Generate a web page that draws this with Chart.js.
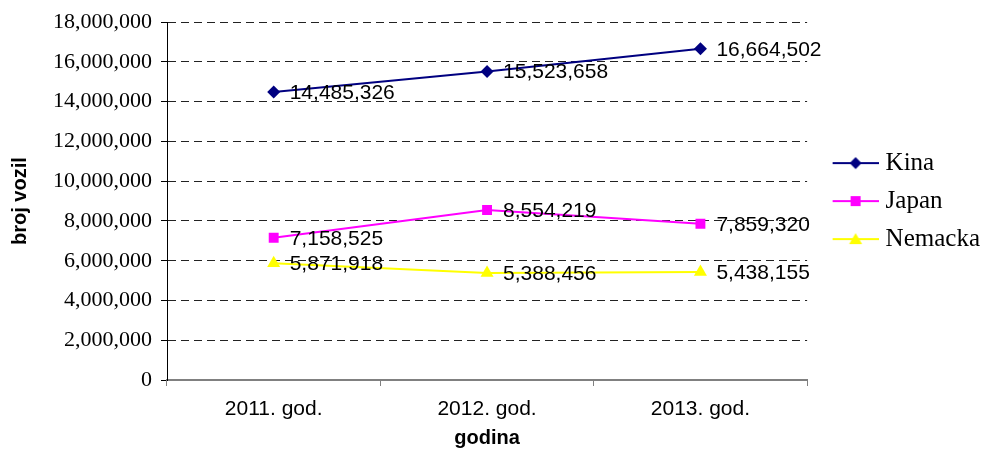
<!DOCTYPE html>
<html lang="sr">
<head>
    <meta charset="UTF-8">
    <title>broj vozil po godini</title>
    <script src="https://cdn.jsdelivr.net/npm/chart.js"></script>
    <style>
        html, body { margin: 0; padding: 0; background: #fff; overflow: hidden; }
    </style>
</head>
<body>
<canvas id="vozila_chart" width="985" height="459"></canvas>
<script>
// values
const godine = ['2011. god.', '2012. god.', '2013. god.'];
const kina = [14485326, 15523658, 16664502];
const japan = [7158525, 8554219, 7859320];
const nemacka = [5871918, 5388456, 5438155];

const serije = [
    { label: 'Kina', data: kina, color: '#000080', style: 'rectRot', radius: 6.5 },
    { label: 'Japan', data: japan, color: '#FF00FF', style: 'rect', radius: 7 },
    { label: 'Nemacka', data: nemacka, color: '#FFFF00', style: 'triangle', radius: 7.5 }
];

const fmt = v => Number(v).toLocaleString('en-US');

// little line + marker swatch for the legend
function legendSwatch(color, style) {
    const c = document.createElement('canvas');
    c.width = 64;
    c.height = 20;
    const g = c.getContext('2d');
    g.strokeStyle = color;
    g.lineWidth = 2;
    g.beginPath();
    g.moveTo(18, 10);
    g.lineTo(64, 10);
    g.stroke();
    g.fillStyle = color;
    g.beginPath();
    const cx = 41, cy = 10;
    if (style === 'rectRot') {
        g.moveTo(cx, cy - 6); g.lineTo(cx + 6, cy); g.lineTo(cx, cy + 6); g.lineTo(cx - 6, cy);
    } else if (style === 'rect') {
        g.rect(cx - 5, cy - 5, 10, 10);
    } else {
        g.moveTo(cx, cy - 6); g.lineTo(cx + 6.5, cy + 5); g.lineTo(cx - 6.5, cy + 5);
    }
    g.closePath();
    g.fill();
    return c;
}

// value labels next to each point
const valueLabels = {
    id: 'valueLabels',
    afterDatasetsDraw(chart) {
        const ctx = chart.ctx;
        ctx.save();
        ctx.font = '21px "Liberation Sans", Arial, sans-serif';
        ctx.fillStyle = '#000';
        ctx.textAlign = 'left';
        ctx.textBaseline = 'middle';
        chart.data.datasets.forEach((ds, i) => {
            chart.getDatasetMeta(i).data.forEach((pt, j) => {
                ctx.fillText(fmt(ds.data[j]), pt.x + 16, pt.y + 1);
            });
        });
        ctx.restore();
    }
};

const ctx = document.getElementById('vozila_chart').getContext('2d');
new Chart(ctx, {
    type: 'line',
    data: {
        labels: godine,
        datasets: serije.map(s => ({
            label: s.label,
            data: s.data,
            borderColor: s.color,
            backgroundColor: s.color,
            borderWidth: 2,
            pointStyle: s.style,
            pointRadius: s.radius,
            pointBorderWidth: 0,
            fill: false,
            tension: 0
        }))
    },
    options: {
        responsive: false,
        animation: false,
        devicePixelRatio: 1,
        // negative right padding pushes the legend text out towards the edge
        layout: { padding: { top: 22, left: 0, right: -5, bottom: 0 } },
        plugins: {
            tooltip: { enabled: false },
            legend: {
                position: 'right',
                fullSize: false,
                labels: {
                    usePointStyle: true,
                    pointStyleWidth: 53,
                    padding: 13,
                    color: '#000',
                    font: { family: '"Liberation Serif", "Times New Roman", serif', size: 25 },
                    generateLabels(chart) {
                        const items = Chart.defaults.plugins.legend.labels.generateLabels(chart);
                        items.forEach((it, i) => {
                            it.pointStyle = legendSwatch(serije[i].color, serije[i].style);
                        });
                        return items;
                    }
                }
            }
        },
        scales: {
            x: {
                offset: true,
                afterFit(scale) { scale.height = 79; },
                border: { color: '#808080', width: 2 },
                grid: {
                    offset: true,
                    drawOnChartArea: false,
                    drawTicks: true,
                    tickLength: 6,
                    tickColor: '#808080'
                },
                ticks: {
                    color: '#000',
                    padding: 11,
                    font: { family: '"Liberation Sans", Arial, sans-serif', size: 21 }
                },
                title: {
                    display: true,
                    text: 'godina',
                    color: '#000',
                    padding: { top: 0, bottom: 9 },
                    font: { family: '"Liberation Sans", Arial, sans-serif', size: 20, weight: 'bold' }
                }
            },
            y: {
                min: 0,
                max: 18000000,
                afterFit(scale) { scale.width = 167; },
                border: { color: '#000', width: 1, dash: [8, 5] },
                grid: {
                    color: c => (c.tick && c.tick.value === 0) ? 'rgba(0,0,0,0)' : '#222',
                    tickBorderDash: [],
                    tickColor: '#000',
                    tickLength: 6
                },
                ticks: {
                    stepSize: 2000000,
                    color: '#000',
                    padding: 9,
                    callback: v => fmt(v),
                    font: { family: '"Liberation Serif", "Times New Roman", serif', size: 22 }
                },
                title: {
                    display: true,
                    text: 'broj vozil',
                    color: '#000',
                    padding: { top: 8, bottom: 0 },
                    font: { family: '"Liberation Sans", Arial, sans-serif', size: 20, weight: 'bold' }
                }
            }
        }
    },
    plugins: [valueLabels]
});
</script>
</body>
</html>
